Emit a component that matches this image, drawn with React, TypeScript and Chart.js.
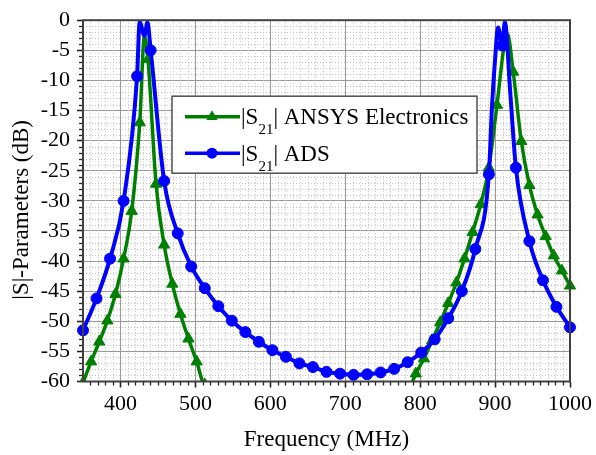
import React, { useEffect, useRef } from "react";
import { Chart, registerables } from "chart.js";

Chart.register(...registerables);

const SERIF = '"Liberation Serif", "Times New Roman", serif';

// Axis ranges and labelled ticks
const freqMin = 350;
const freqMax = 1000;
const dbMin = -60;
const dbMax = 0;
const freqTicks = [400, 500, 600, 700, 800, 900, 1000];
const dbTicks = [0, -5, -10, -15, -20, -25, -30, -35, -40, -45, -50, -55, -60];

// |S21| from ADS: marked sweep samples (MHz, dB)
const adsFreq = [
  350, 368.1, 386.1, 404.2, 422.2, 440.3, 458.3, 476.4, 494.4, 512.5, 530.6, 548.6,
  566.7, 584.7, 602.8, 620.8, 638.9, 656.9, 675, 693.1, 711.1, 729.2, 747.2, 765.3,
  783.3, 801.4, 819.4, 837.5, 855.6, 873.6, 891.7, 909.7, 927.8, 945.8, 963.9, 981.9, 1000,
];
const adsDb = [
  -51.5, -46.2, -39.6, -30.0, -9.3, -5.0, -26.7, -35.4, -40.9, -44.5, -47.5, -49.9,
  -51.8, -53.4, -54.8, -55.9, -57.0, -57.6, -58.4, -58.7, -58.9, -58.8, -58.5, -57.9,
  -56.8, -55.2, -53.0, -49.5, -45.0, -38.0, -25.6, -4.2, -24.5, -36.7, -43.2, -47.6, -51.0,
];
// ADS: additional unmarked samples across the two passbands
const adsPeakFreq = [425.6, 432.0, 436.0, 896.0, 900.0, 904.0, 913.0, 920.5];
const adsPeakDb = [-0.3, -2.6, -0.3, -14.0, -6.5, -1.2, -0.3, -12.5];

// |S21| from ANSYS Electronics: marked samples (MHz, dB)
const ansysFreq = [
  350, 360.8, 371.7, 382.5, 393.3, 404.2, 415.0, 425.8, 436.7, 447.5, 458.3, 469.2,
  480.0, 490.8, 501.7, 512.5,
  783.3, 794.2, 805.0, 815.8, 826.7, 837.5, 848.3, 859.2, 870.0, 880.8, 891.7, 902.5,
  913.3, 924.2, 935.0, 945.8, 956.7, 967.5, 978.3, 989.2, 1000,
];
const ansysDb = [
  -60.2, -56.7, -53.4, -49.9, -45.5, -39.6, -31.7, -17.0, -6.5, -27.2, -37.3, -43.8,
  -48.8, -52.9, -56.7, -60.5,
  -61.4, -58.7, -56.2, -53.2, -50.2, -47.0, -43.6, -39.6, -35.2, -30.6, -24.5, -14.1,
  -3.2, -8.6, -20.1, -27.4, -32.3, -35.9, -39.1, -41.6, -44.1,
];
// ANSYS: additional unmarked samples at the resonance tips
const ansysPeakFreq = [432.0, 916.5];
const ansysPeakDb = [-2.6, -2.3];

const BLUE = "#0000ff";
const GREEN = "#008000";

type Pt = { x: number; y: number; mark: boolean };

function buildSeries(f: number[], v: number[], pf: number[], pv: number[]): Pt[] {
  const pts: Pt[] = f.map((x, i) => ({ x, y: v[i], mark: true }));
  pf.forEach((x, i) => pts.push({ x, y: pv[i], mark: false }));
  return pts.sort((a, b) => a.x - b.x);
}

function drawTriangle(ctx: CanvasRenderingContext2D, x: number, y: number, r: number) {
  let rad = 0;
  ctx.beginPath();
  for (let k = 0; k < 3; k++) {
    const px = x + Math.sin(rad) * r;
    const py = y - Math.cos(rad) * r;
    if (k === 0) ctx.moveTo(px, py);
    else ctx.lineTo(px, py);
    rad += (Math.PI * 2) / 3;
  }
  ctx.closePath();
  ctx.fill();
}

function drawS21(ctx: CanvasRenderingContext2D, x: number, baseline: number, rest: string) {
  ctx.fillStyle = "#000";
  ctx.textAlign = "left";
  ctx.textBaseline = "alphabetic";
  ctx.font = `23px ${SERIF}`;
  ctx.fillText("|S", x, baseline);
  x += ctx.measureText("|S").width;
  ctx.font = `15px ${SERIF}`;
  ctx.fillText("21", x, baseline + 10);
  x += ctx.measureText("21").width;
  ctx.font = `23px ${SERIF}`;
  ctx.fillText("| " + rest, x, baseline);
}

const decorations = {
  id: "decorations",
  beforeDatasetsDraw(chart: any) {
    const { ctx, chartArea: a, scales } = chart;
    const xs = scales.x;
    const ys = scales.y;
    ctx.save();
    // dotted minor grid
    ctx.strokeStyle = "#c2c2c2";
    ctx.lineWidth = 1;
    ctx.setLineDash([1, 2]);
    for (let f = freqMin + 10; f < freqMax; f += 10) {
      if (f % 100 === 0) continue;
      const px = Math.round(xs.getPixelForValue(f)) + 0.5;
      ctx.beginPath();
      ctx.moveTo(px, a.top);
      ctx.lineTo(px, a.bottom);
      ctx.stroke();
    }
    for (let d = dbMin + 1; d < dbMax; d += 1) {
      if (d % 5 === 0) continue;
      const py = Math.round(ys.getPixelForValue(d)) + 0.5;
      ctx.beginPath();
      ctx.moveTo(a.left, py);
      ctx.lineTo(a.right, py);
      ctx.stroke();
    }
    ctx.setLineDash([]);
    // minor tick marks outside the frame
    ctx.strokeStyle = "#222";
    ctx.lineWidth = 1.3;
    for (let f = freqMin + 10; f < freqMax; f += 10) {
      if (f % 100 === 0) continue;
      const px = Math.round(xs.getPixelForValue(f)) + 0.5;
      ctx.beginPath();
      ctx.moveTo(px, a.bottom);
      ctx.lineTo(px, a.bottom + 4);
      ctx.stroke();
    }
    for (let d = dbMin + 1; d < dbMax; d += 1) {
      if (d % 5 === 0) continue;
      const py = Math.round(ys.getPixelForValue(d)) + 0.5;
      ctx.beginPath();
      ctx.moveTo(a.left, py);
      ctx.lineTo(a.left - 4, py);
      ctx.stroke();
    }
    ctx.restore();
  },
  afterDatasetsDraw(chart: any) {
    const { ctx, chartArea: a } = chart;
    ctx.save();
    // frame
    ctx.strokeStyle = "#404040";
    ctx.lineWidth = 2;
    ctx.strokeRect(a.left, a.top, a.right - a.left, a.bottom - a.top);

    // y-axis title, set slightly below the plot's vertical centre
    ctx.save();
    ctx.translate(22, (a.top + a.bottom) / 2 + 9);
    ctx.rotate(-Math.PI / 2);
    ctx.fillStyle = "#000";
    ctx.font = `23px ${SERIF}`;
    ctx.textAlign = "center";
    ctx.textBaseline = "middle";
    ctx.fillText("|S|-Parameters (dB)", 0, 0);
    ctx.restore();

    // legend
    const bx = a.left + 89;
    const by = a.top + 76;
    const bw = 305;
    const bh = 77;
    ctx.fillStyle = "#fff";
    ctx.fillRect(bx, by, bw, bh);
    ctx.strokeStyle = "#505050";
    ctx.lineWidth = 1.5;
    ctx.strokeRect(bx, by, bw, bh);

    const rows = [
      { color: GREEN, y: by + 20.5, text: "ANSYS Electronics", tri: true },
      { color: BLUE, y: by + 57, text: "ADS", tri: false },
    ];
    for (const r of rows) {
      ctx.strokeStyle = r.color;
      ctx.fillStyle = r.color;
      ctx.lineWidth = 3.5;
      ctx.beginPath();
      ctx.moveTo(bx + 13, r.y);
      ctx.lineTo(bx + 68, r.y);
      ctx.stroke();
      if (r.tri) {
        drawTriangle(ctx, bx + 40, r.y, 6.5);
      } else {
        ctx.beginPath();
        ctx.arc(bx + 40, r.y, 5.5, 0, Math.PI * 2);
        ctx.fill();
      }
      drawS21(ctx, bx + 69, r.y + 7.6, r.text);
    }
    ctx.restore();
  },
};

export default function App() {
  const ref = useRef<HTMLCanvasElement>(null);

  useEffect(() => {
    const canvas = ref.current;
    if (!canvas) return;

    const ads = buildSeries(adsFreq, adsDb, adsPeakFreq, adsPeakDb);
    const ansys = buildSeries(ansysFreq, ansysDb, ansysPeakFreq, ansysPeakDb);

    const font = { family: SERIF, size: 22 };
    const titleFont = { family: SERIF, size: 23 };

    const chart = new Chart(canvas, {
      type: "line",
      data: {
        datasets: [
          {
            label: "|S21| ADS",
            data: ads as any,
            borderColor: BLUE,
            backgroundColor: BLUE,
            borderWidth: 4,
            pointStyle: "circle",
            pointRadius: (c: any) => (c.raw && c.raw.mark ? 5.5 : 0),
            pointBackgroundColor: BLUE,
            pointBorderColor: BLUE,
            pointBorderWidth: 1,
            cubicInterpolationMode: "monotone",
            clip: { left: 8, right: 8, top: 0, bottom: 0 } as any,
          },
          {
            label: "|S21| ANSYS Electronics",
            data: ansys as any,
            borderColor: GREEN,
            backgroundColor: GREEN,
            borderWidth: 3.5,
            pointStyle: "triangle",
            pointRadius: (c: any) => (c.raw && c.raw.mark ? 6.5 : 0),
            pointBackgroundColor: GREEN,
            pointBorderColor: GREEN,
            pointBorderWidth: 1,
            cubicInterpolationMode: "monotone",
            clip: { left: 8, right: 8, top: 0, bottom: 0 } as any,
          },
        ],
      },
      options: {
        animation: false,
        responsive: false,
        devicePixelRatio: 1,
        parsing: { xAxisKey: "x", yAxisKey: "y" } as any,
        layout: { padding: { top: 15.5, right: 23, left: 0, bottom: 0 } },
        plugins: {
          legend: { display: false },
          tooltip: { enabled: false },
        },
        scales: {
          x: {
            type: "linear",
            min: freqMin,
            max: freqMax,
            afterBuildTicks: (s: any) => {
              s.ticks = freqTicks.map((v) => ({ value: v }));
            },
            afterFit: (s: any) => {
              s.height = 73.5;
            },
            grid: {
              color: "#999999",
              lineWidth: 1,
              tickLength: 6,
              tickColor: "#222",
              tickWidth: 1.6,
            },
            border: { display: false },
            ticks: {
              font,
              color: "#000",
              padding: 4,
              maxRotation: 0,
              autoSkip: false,
              callback: (v: any) => String(v),
            },
            title: {
              display: true,
              text: "Frequency (MHz)",
              font: titleFont,
              color: "#000",
              padding: { top: 0, bottom: 1 },
            },
          },
          y: {
            type: "linear",
            min: dbMin,
            max: dbMax,
            afterBuildTicks: (s: any) => {
              s.ticks = dbTicks.map((v) => ({ value: v }));
            },
            afterFit: (s: any) => {
              s.width = 83;
            },
            grid: {
              color: "#999999",
              lineWidth: 1,
              tickLength: 6,
              tickColor: "#222",
              tickWidth: 1.6,
            },
            border: { display: false },
            ticks: {
              font,
              color: "#000",
              padding: 7,
              autoSkip: false,
              callback: (v: any) => String(v),
            },
            title: { display: false },
          },
        },
      },
      plugins: [decorations],
    } as any);

    return () => chart.destroy();
  }, []);

  return (
    <div style={{ position: "fixed", left: 0, top: 0, width: 596, height: 455, background: "#fff" }}>
      <canvas ref={ref} width={596} height={455} style={{ display: "block" }} />
    </div>
  );
}
